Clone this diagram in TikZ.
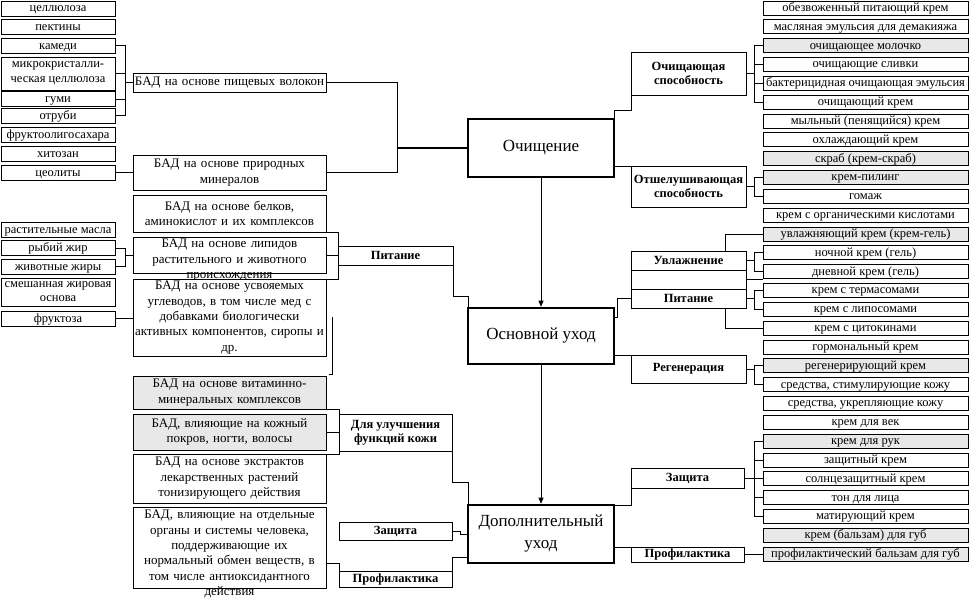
\documentclass[tikz,border=0pt]{standalone}
\usepackage{fontspec}
\setmainfont{Liberation Serif}
\usetikzlibrary{arrows.meta}
\colorlet{shade}{gray!18}
\tikzset{
	leaf/.style={draw, line width=0.7pt, outer sep=0pt, anchor=north west, minimum width=114pt, minimum height=15pt, inner sep=0pt, text height=9pt, text depth=2pt, font=\fontsize{12.5}{15}\selectfont},
	rleaf/.style={leaf, minimum width=205pt, minimum height=14pt},
	badbox/.style={draw, line width=0.7pt, outer sep=0pt, anchor=north west, minimum width=193pt, text width=191pt, align=center, inner sep=1pt, font=\fontsize{13}{15.4}\selectfont},
	badtext/.style={anchor=north, text width=191pt, align=center, inner sep=1pt, font=\fontsize{13}{15.4}\selectfont},
	catbox/.style={draw, line width=0.7pt, outer sep=0pt, anchor=north west, minimum width=115pt, align=center, inner sep=1pt, font=\bfseries\fontsize{12.5}{14}\selectfont},
	hub/.style={draw, line width=2.6pt, outer sep=0pt, anchor=north west, minimum width=146pt, align=center, font=\fontsize{17}{22}\selectfont},
	link/.style={line width=0.7pt},
	feed/.style={link, -{Triangle[width=5pt,length=6pt]}, shorten >=1.3pt}
}
\begin{document}
\begin{tikzpicture}[x=1pt, y=-1pt]
	%\draw[help lines] (0,0) grid (978,605);
	\useasboundingbox (0,0) rectangle (978,605);
	
	\node[leaf] (cell) at (1,1) {целлюлоза};
	\node[leaf] (pekt) at (1,19.5) {пектины};
	\node[leaf] (kam) at (1,38) {камеди};
	\node[leaf, minimum height=33pt, align=center, text height=, text depth=] (mikro) at (1,57) {микрокристалли-\\ческая целлюлоза};
	\node[leaf] (gumi) at (1,91.5) {гуми};
	\node[leaf] (otrub) at (1,108) {отруби};
	\node[leaf] (fruol) at (1,127) {фруктоолигосахара};
	\node[leaf] (hit) at (1,146) {хитозан};
	\node[leaf] (ceol) at (1,165) {цеолиты};
	\node[leaf] (rast) at (1,222) {растительные масла};
	\node[leaf] (ryb) at (1,240.5) {рыбий жир};
	\node[leaf] (zhiv) at (1,259) {животные жиры};
	\node[leaf, minimum height=28pt, align=center, text height=, text depth=, font=\fontsize{12.5}{14}\selectfont] (smes) at (1,278) {смешанная жировая\\основа};
	\node[leaf] (fruk) at (1,311) {фруктоза};
	
	\node[badbox, minimum height=19pt] (volok) at (133,73) {БАД на основе пищевых волокон};
	\node[badbox, minimum height=35pt] (miner) at (133,155) {БАД на основе природных\\минералов};
	\node[badbox, minimum height=37pt] (belk) at (133,195) {БАД на основе белков,\\аминокислот и их комплексов};
	\node[badbox, minimum height=36pt] (lipid) at (133,237) {};
	\node[badtext] (lipidtxt) at ([yshift=-1pt]lipid.north) {БАД на основе липидов\\растительного и животного\\происхождения};
	\node[badbox, minimum height=77pt, fill=white] (usv) at (133,279) {БАД на основе усвояемых\\углеводов, в том числе мед с\\добавками биологически\\активных компонентов, сиропы и\\др.};
	\node[badbox, minimum height=33pt, fill=shade] (vit) at (133,376) {БАД на основе витаминно-\\минеральных комплексов};
	\node[badbox, minimum height=36pt, fill=shade] (kozh) at (133,414) {БАД, влияющие на кожный\\покров, ногти, волосы};
	\node[badbox, minimum height=49pt] (ekstr) at (133,454) {БАД на основе экстрактов\\лекарственных растений\\тонизирующего действия};
	\node[badbox, minimum height=81pt] (organ) at (133,507) {};
	\node[badtext] (organtxt) at ([yshift=-2pt]organ.north) {БАД, влияющие на отдельные\\органы и системы человека,\\поддерживающие их\\нормальный обмен веществ, в\\том числе антиоксидантного\\действия};
	
	\node[catbox, minimum height=19pt] (pitL) at (338,246) {Питание};
	\node[catbox, minimum width=113pt, minimum height=37pt] (ulu) at (339,414) {Для улучшения\\функций кожи};
	\node[catbox, minimum width=113pt, minimum height=18pt] (zasL) at (339,522) {Защита};
	\node[catbox, minimum width=113pt, minimum height=16pt] (profL) at (339,571) {Профилактика};
	
	\node[hub, minimum height=58pt] (och) at (468,119) {Очищение};
	\node[hub, minimum height=56pt] (osn) at (468,308) {Основной уход};
	\node[hub, minimum height=58pt] (dop) at (468,505) {Дополнительный\\уход};
	
	\node[catbox, minimum height=43pt] (ochsp) at (631,52) {Очищающая\\способность};
	\node[catbox, minimum height=41pt] (otsh) at (631,166) {Отшелушивающая\\способность};
	\node[catbox, minimum height=19pt] (uvl) at (631,251) {Увлажнение};
	\node[catbox, minimum height=19pt] (gap) at (631,270) {};
	\node[catbox, minimum height=19pt] (pitR) at (631,289) {Питание};
	\node[catbox, minimum height=28pt] (regen) at (631,355) {Регенерация};
	\node[catbox, minimum width=113pt, minimum height=20pt] (zasR) at (631,468) {Защита};
	\node[catbox, minimum width=113pt, minimum height=15pt] (profR) at (631,547) {Профилактика};
	
	\foreach \txt/\col [count=\i] in {
		обезвоженный питающий крем/white,
		масляная эмульсия для демакияжа/white,
		очищающее молочко/shade,
		очищающие сливки/white,
		бактерицидная очищающая эмульсия/white,
		очищающий крем/white,
		мыльный (пенящийся) крем/white,
		охлаждающий крем/white,
		скраб (крем-скраб)/shade,
		крем-пилинг/shade,
		гомаж/white,
		крем с органическими кислотами/white,
		увлажняющий крем (крем-гель)/shade,
		ночной крем (гель)/white,
		дневной крем (гель)/white,
		крем с термасомами/white,
		крем с липосомами/white,
		крем с цитокинами/white,
		гормональный крем/white,
		регенерирующий крем/shade,
		{средства, стимулирующие кожу}/white,
		{средства, укрепляющие кожу}/white,
		крем для век/white,
		крем для рук/shade,
		защитный крем/white,
		солнцезащитный крем/white,
		тон для лица/white,
		матирующий крем/white,
		крем (бальзам) для губ/shade,
		профилактический бальзам для губ/shade}
	{\node[rleaf, fill=\col] (r\i) at (763,{1+18.83*(\i-1)}) {\txt};}
	
	% left side
	\coordinate (fib) at (125,82.5);
	\foreach \n in {kam,mikro,gumi,otrub}{\draw[link] (\n.east) -| (fib);}
	\draw[line width=1.4pt] (fib) -- (volok.west);
	\draw[link] (ceol.east) -- (ceol.east -| miner.west);
	\coordinate (ochin) at (397,148);
	\draw[link] (volok.east) -| (ochin);
	\draw[link] (miner.east) -| (ochin);
	\draw[line width=1.4pt] (ochin) -- (och.west);
	
	\coordinate (fat) at (125,255);
	\foreach \n in {ryb,zhiv}{\draw[link] (\n.east) -| (fat);}
	\draw[link] (fat) -- (lipid.west);
	\draw[link] (fruk.east) -- (fruk.east -| usv.west);
	\foreach \n in {belk.south east,lipid.east,usv.north east}{\draw[link] (\n) -| (pitL.west);}
	\draw[link] (pitL.south east) -- ++(0,31) -| (osn.north west);
	\draw[link] (332,317) -- (332,374) -- (329,374);
	
	\draw[link] (vit.south east) -| (ulu.north west);
	\draw[link] (kozh.east) -- (kozh.east -| ulu.west);
	\draw[link] (ekstr.north east) -| (ulu.south west);
	\draw[link] (ulu.south east) -- ++(0,31) -| (dop.north west);
	\draw[link] (zasL.east) -- ++(8,0) |- (dop.west);
	\draw[link] ([yshift=-15.5pt]organ.east) -| (profL.north west);
	\draw[link] (profL.north east) |- ([yshift=-23pt]dop.west);
	
	\draw[feed] (och.south) -- (osn.north);
	\draw[feed] (osn.south) -- (dop.north);
	
	% right side
	\draw[link] (och.north east) -- ++(0,-9) -| (ochsp.south west);
	\draw[link] (och.east |- otsh.north west) -- (otsh.north west);
	\coordinate (cln) at (754,73.5);
	\draw[link] (ochsp.east) -- (cln);
	\foreach \i in {3,...,6}{\draw[link] (r\i.west) -| (cln);}
	\coordinate (exf) at (754,186.5);
	\draw[link] (otsh.east) -- (exf);
	\foreach \i in {10,11}{\draw[link] (r\i.west) -| (exf);}
	
	\draw[link] ([yshift=19pt]osn.east) -- ++(3,0) |- (pitR.west);
	\draw[link] (osn.east |- regen.north west) -- (regen.north west);
	\draw[link] ([xshift=37pt]uvl.north) |- (r13.west);
	\coordinate (moi) at (754,260.5);
	\draw[link] (uvl.east) -- (moi);
	\foreach \i in {14,15}{\draw[link] (r\i.west) -| (moi);}
	\draw[line width=1.4pt] (gap.east) -- (gap.east -| r16.west);
	\coordinate (nut) at (754,298.5);
	\draw[link] (pitR.east) -- (nut);
	\foreach \i in {16,17}{\draw[link] (r\i.west) -| (nut);}
	\draw[link] ([xshift=37pt]pitR.south) |- (r18.west);
	\coordinate (reg) at (754,369);
	\draw[link] (regen.east) -- (reg);
	\foreach \i in {20,21}{\draw[link] (r\i.west) -| (reg);}
	
	\draw[link] (dop.north east) -| (zasR.south west);
	\draw[link] (dop.east |- profR.north west) -- (profR.north west);
	\coordinate (prot) at (754,478);
	\draw[link] (zasR.east) -- (prot);
	\foreach \i in {24,...,28}{\draw[link] (r\i.west) -| (prot);}
	\draw[link] (profR.east) -- (profR.east -| r30.west);
\end{tikzpicture}
\end{document}
